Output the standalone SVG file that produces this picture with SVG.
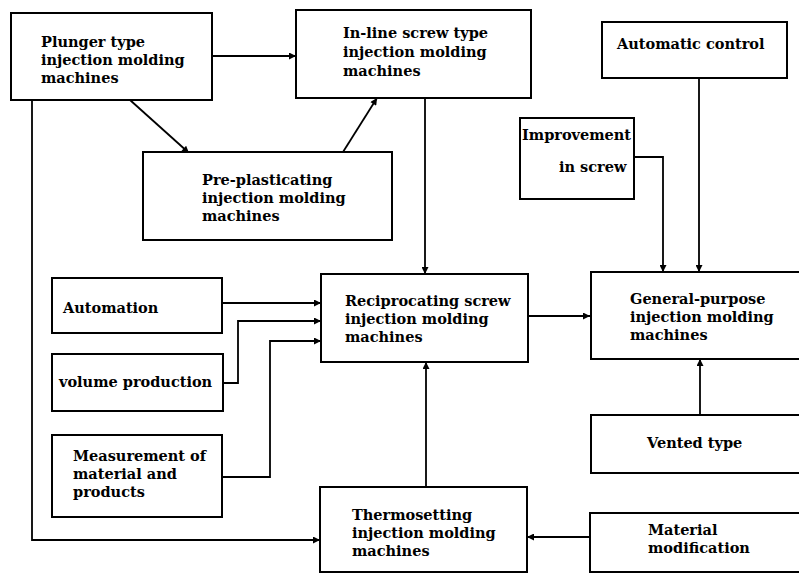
<svg xmlns="http://www.w3.org/2000/svg" width="799" height="574" viewBox="0 0 799 574">
<style>
.box{fill:#fff;stroke:#000;stroke-width:2}
.t{font-family:"DejaVu Serif","Liberation Serif",serif;font-weight:bold;font-size:14.5px;fill:#000}
.c{fill:none;stroke:#000;stroke-width:1.8}
</style>
<defs>
<marker id="ah" viewBox="0 0 10 10" refX="10" refY="5" markerWidth="9" markerHeight="7" markerUnits="userSpaceOnUse" orient="auto">
<path d="M0,0 L10,5 L0,10 z" fill="#000"/>
</marker>
</defs>
<rect width="799" height="574" fill="#fff"/>
<g id="connectors">
<path class="c" d="M212,56 H296" marker-end="url(#ah)"/>
<path class="c" d="M130,100 L189,153" marker-end="url(#ah)"/>
<path class="c" d="M343,152 L377,98" marker-end="url(#ah)"/>
<path class="c" d="M425,98 V274" marker-end="url(#ah)"/>
<path class="c" d="M426,486 V362" marker-end="url(#ah)"/>
<path class="c" d="M222,303 H321" marker-end="url(#ah)"/>
<path class="c" d="M223,383 H238 V321 H321" marker-end="url(#ah)"/>
<path class="c" d="M222,477 H270 V341 H321" marker-end="url(#ah)"/>
<path class="c" d="M32,100 V540 H320" marker-end="url(#ah)"/>
<path class="c" d="M590,537 H527" marker-end="url(#ah)"/>
<path class="c" d="M528,316 H590" marker-end="url(#ah)"/>
<path class="c" d="M634,157 H663 V272" marker-end="url(#ah)"/>
<path class="c" d="M699,78 V272" marker-end="url(#ah)"/>
<path class="c" d="M700,415 V359" marker-end="url(#ah)"/>
</g>
<g id="plunger">
<rect class="box" x="11" y="13" width="201" height="87"/>
<text class="t" x="41" y="47">Plunger type</text>
<text class="t" x="41" y="65">injection molding</text>
<text class="t" x="41" y="83">machines</text>
</g>
<g id="inline">
<rect class="box" x="296" y="10" width="235" height="88"/>
<text class="t" x="343" y="38">In-line screw type</text>
<text class="t" x="343" y="57">injection molding</text>
<text class="t" x="343" y="76">machines</text>
</g>
<g id="preplasticating">
<rect class="box" x="143" y="152" width="249" height="88"/>
<text class="t" x="202" y="185">Pre-plasticating</text>
<text class="t" x="202" y="203">injection molding</text>
<text class="t" x="202" y="221">machines</text>
</g>
<g id="automatic">
<rect class="box" x="602" y="22" width="185" height="56"/>
<text class="t" x="617" y="49">Automatic control</text>
</g>
<g id="improvement">
<rect class="box" x="520" y="118" width="114" height="81"/>
<text class="t" x="522" y="140">Improvement</text>
<text class="t" x="559" y="172">in screw</text>
</g>
<g id="automation">
<rect class="box" x="52" y="278" width="170" height="55"/>
<text class="t" x="63" y="313">Automation</text>
</g>
<g id="volume">
<rect class="box" x="52" y="354" width="171" height="57"/>
<text class="t" x="59" y="387">volume production</text>
</g>
<g id="measurement">
<rect class="box" x="52" y="435" width="170" height="82"/>
<text class="t" x="73" y="461">Measurement of</text>
<text class="t" x="73" y="479">material and</text>
<text class="t" x="73" y="497">products</text>
</g>
<g id="reciprocating">
<rect class="box" x="321" y="274" width="207" height="88"/>
<text class="t" x="345" y="306">Reciprocating screw</text>
<text class="t" x="345" y="324">injection molding</text>
<text class="t" x="345" y="342">machines</text>
</g>
<g id="general">
<rect class="box" x="591" y="272" width="230" height="87"/>
<text class="t" x="630" y="304">General-purpose</text>
<text class="t" x="630" y="322">injection molding</text>
<text class="t" x="630" y="340">machines</text>
</g>
<g id="vented">
<rect class="box" x="591" y="415" width="230" height="58"/>
<text class="t" x="647" y="448">Vented type</text>
</g>
<g id="thermosetting">
<rect class="box" x="320" y="487" width="207" height="85"/>
<text class="t" x="352" y="520">Thermosetting</text>
<text class="t" x="352" y="538">injection molding</text>
<text class="t" x="352" y="556">machines</text>
</g>
<g id="material">
<rect class="box" x="590" y="513" width="230" height="59"/>
<text class="t" x="648" y="535">Material</text>
<text class="t" x="648" y="553">modification</text>
</g>
</svg>
